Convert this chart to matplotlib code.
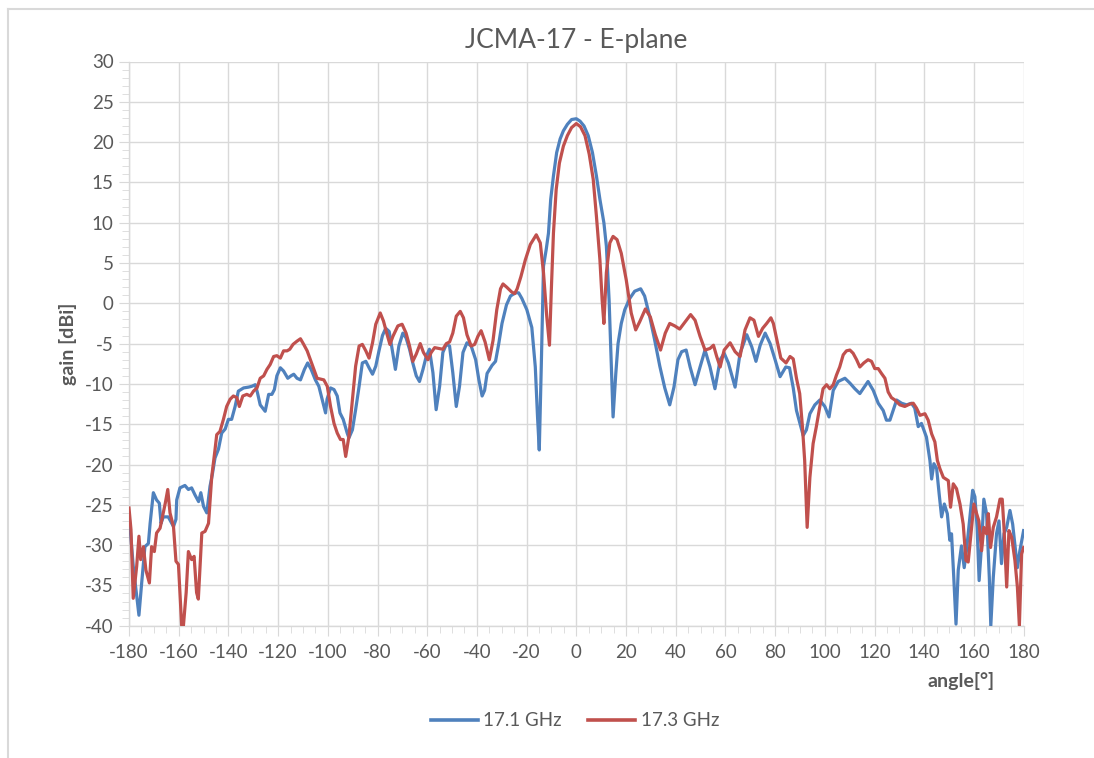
import matplotlib
matplotlib.use("Agg")
import matplotlib.pyplot as plt
from matplotlib.ticker import MultipleLocator
from matplotlib.lines import Line2D

# ---------------- data ----------------
blue_deg = [-180, -178.3, -176, -174.9, -173.6, -172.2, -171.5, -170.2, -168.9, -167.8, -167.1, -166.2,
            -164.2, -162.1, -161.1, -160.8, -159.5, -157.5, -156.1, -154.8, -153.4, -152, -151.1, -150,
            -148.7, -147.4, -146.5, -145.4, -144, -142.7, -141.3, -140, -138.7, -137.3, -136, -133.9,
            -131.9, -130.6, -129.2, -128.3, -127.2, -125.2, -123.8, -122.5, -121.5, -120.5, -119.1,
            -117.8, -116.1, -114.8, -113.7, -112.4, -111, -109.4, -108.1, -106.7, -105, -103.6, -102.3,
            -100.9, -100.3, -98.9, -97.5, -96.2, -95.1, -93.8, -92.2, -91.5, -90.1, -88.8, -87.4, -86.1,
            -84.7, -83.4, -82, -80.7, -79.4, -78, -76.7, -75.3, -74, -72.8, -71.4, -69.8, -68.5, -67.1,
            -65.8, -64.4, -63.1, -61.7, -60.4, -59.1, -57.7, -56.4, -55, -53.7, -52.3, -51, -49.7,
            -48.3, -47, -45.6, -44, -42.3, -40.5, -39.2, -37.9, -36.9, -35.9, -33.9, -32.5, -31.2,
            -29.9, -28.1, -26.5, -24.5, -23.2, -21.9, -19.9, -17.9, -16.5, -15.6, -14.9, -14.1, -13.2,
            -12.1, -11.2, -10.3, -9.2, -7.9, -6.5, -5.2, -3.6, -1.9, 0, 1.5, 3.1, 4.8, 6.5, 8.1, 9.5,
            11.1, 12.1, 13.2, 14.1, 14.8, 15.9, 16.8, 18.1, 19.5, 21.5, 23.5, 25.9, 27.5, 29.5, 31.5,
            33.6, 35.6, 37.6, 39.3, 40.9, 42.4, 44.2, 45.8, 47.8, 49.8, 51.8, 53.8, 55.8, 57.9, 59.5,
            61.2, 63.9, 65.9, 68.6, 70.6, 72.3, 74, 76, 78, 80, 82, 84.3, 85.8, 87.3, 88.6, 89.9, 91.3,
            92.6, 94, 96, 98, 100, 101.7, 103.4, 105.4, 108.1, 110.1, 112.1, 114.1, 115.4, 117.4,
            119.5, 121.5, 123.5, 124.8, 126.2, 127.5, 128.9, 130.9, 132.9, 134.9, 136.2, 137.6, 138.9,
            140.9, 142.3, 143, 143.9, 145, 146, 147, 148.1, 149.3, 150.3, 151, 151.9, 152.8, 153.7,
            155, 156.1, 157, 158.1, 159.5, 160.4, 161.3, 162.1, 163.1, 164, 165.1, 166.2, 166.8,
            167.8, 169.1, 170.1, 171.1, 172.1, 173.2, 174.5, 175.6, 176.5, 177.5, 178.5, 180]
blue_gain = [-26.2, -32.6, -38.7, -34.7, -30.2, -29.8, -27.3, -23.5, -24.4, -24.8, -27.3, -26.5,
             -26.5, -27.7, -26.8, -24.4, -22.9, -22.6, -23.1, -22.9, -23.8, -24.6, -23.5, -25.2,
             -26.0, -22.7, -21.3, -19.2, -18.1, -16.1, -15.6, -14.4, -14.4, -12.8, -10.9, -10.5,
             -10.4, -10.3, -10.1, -11.1, -12.6, -13.4, -11.3, -11.3, -10.7, -9.0, -8.0,
             -8.4, -9.3, -9.0, -8.8, -9.3, -9.5, -8.2, -7.4, -8.2, -9.5, -10.3, -11.9,
             -13.6, -11.9, -10.5, -10.7, -11.5, -13.6, -14.4, -16.1, -16.7, -15.7, -13.2, -10.3, -7.4,
             -7.2, -8.0, -8.8, -7.8, -5.9, -4.0, -3.1, -3.5, -5.9, -8.2, -5.3, -3.7, -4.3, -5.7,
             -7.4, -9.0, -9.7, -8.2, -6.6, -5.7, -8.6, -13.2, -10.3, -6.1, -5.1, -5.3, -8.6,
             -12.8, -10.3, -6.1, -4.9, -5.3, -7.0, -9.5, -11.5, -10.8, -8.7, -7.7, -7.2, -5.0,
             -2.5, -0.2, 0.9, 1.3, 1.3, 0.6, -0.8, -3.0, -7.9, -14.1, -18.2, -7.9, 4.6,
             6.7, 8.7, 12.9, 15.8, 18.7, 20.4, 21.4, 22.2, 22.8, 22.9, 22.6, 22.0, 20.8, 18.7, 15.8, 12.9,
             10.0, 7.1, 0.4, -7.9, -14.1, -8.7, -5.0, -2.5, -0.8, 0.6, 1.5, 1.8, 0.9, -1.6, -4.5,
             -7.8, -10.5, -12.6, -10.4, -7.0, -6.0, -5.8, -7.9, -10.1, -7.9, -5.8, -7.9, -10.6, -7.0, -6.2,
             -7.4, -10.4, -6.2, -3.9, -5.4, -7.2, -5.2, -3.7, -5.0, -7.0, -9.1, -7.9, -8.0, -10.5, -13.3,
             -14.8, -16.4, -15.7, -13.7, -12.6, -12.0, -12.8, -14.1, -10.8, -9.7, -9.3, -9.9, -10.6,
             -11.2, -10.6, -9.7, -10.8, -12.4, -13.3, -14.5, -14.5, -13.3, -12.0, -12.4, -12.6, -12.4,
             -13.0, -15.3, -14.9, -16.6, -19.5, -21.8, -19.9, -20.5, -23.6, -26.5, -24.9, -26.1, -29.4,
             -28.6, -34.0, -39.8, -33.1, -30.1, -32.8, -30.7, -27.4, -23.2, -24.0, -27.8, -34.4, -29.9,
             -24.3, -26.1, -34.0, -40.0, -34.0, -28.6, -27.0, -32.3, -28.6, -27.8, -25.7, -27.4, -29.9,
             -32.8, -30.7, -28.2]

red_deg = [-180, -179.2, -178.3, -176.9, -176, -175.3, -174.2, -173.2, -171.8, -170.9, -169.8, -168.9,
           -167.5, -166.2, -165.4, -164.4, -163.5, -162.1, -161.1, -160.1, -158.8, -158.1, -157, -156.1,
           -154.8, -153.8, -152.8, -152.1, -150.7, -149.4, -148, -146.7, -145.4, -144.7, -143.4, -142,
           -140.7, -139.3, -138, -136.6, -135.6, -134.2, -132.6, -131.2, -129.9, -128.5, -127.2, -125.8,
           -124.5, -123.2, -121.8, -120.5, -119.1, -117.8, -116.4, -115.3, -114, -112.4, -111, -109.7,
           -108.3, -107, -105.6, -104.3, -102.9, -101.6, -100.2, -98.9, -97.5, -96.2, -94.9, -93.8,
           -92.8, -91.5, -90.1, -88.8, -87.4, -86.1, -84.7, -83.4, -82, -80.7, -78.9, -77.6, -76.3,
           -75, -73.8, -71.8, -70.1, -68.5, -67.1, -65.8, -64.4, -62.8, -61.5, -59.7, -58.4, -57,
           -55.3, -53.7, -52.3, -51, -49.7, -48.3, -46.7, -45.4, -44, -42.3, -40.9, -39.6, -38.3,
           -36.7, -35, -33.5, -32, -30.5, -29.5, -28, -26, -24.8, -23.8, -22.3, -20.5, -18.5, -16.1,
           -14.5, -13.2, -11.9, -10.8, -10.0, -9.2, -8.1, -6.8, -5.2, -3.6, -1.9, 0, 1.7, 3.5, 5.2,
           6.8, 8.1, 9.5, 10.4, 11.1, 12.1, 13.5, 14.8, 16.4, 18.1, 20.1, 22.1, 23.9, 25.5, 27.8,
           29.8, 31.8, 33.9, 35.8, 37.6, 39.6, 41.6, 43.8, 46, 47.8, 49.8, 51.8, 53.8, 55.2, 56.5,
           57.9, 59.5, 61.9, 63.9, 65.9, 67.9, 69.9, 71.5, 73.3, 75, 76.6, 78.3, 79.3, 80.7, 82.3,
           84.4, 86, 87.3, 88.6, 89.9, 91, 91.9, 92.9, 94, 95.3, 96.6, 98, 99.3, 100.7, 102, 103.4,
           104.7, 106, 107.4, 108.7, 110.1, 111.4, 112.8, 114.1, 115.7, 117.4, 118.8, 120.1, 121.5,
           122.8, 124.2, 125.5, 126.8, 128.2, 130.2, 132.2, 134.2, 135.6, 136.9, 138.3, 140.3, 141.6,
           143, 144.3, 145.3, 146.3, 147.7, 149.7, 150.6, 151.7, 153, 154.4, 155.7, 156.8, 157.7,
           159.1, 160, 161.1, 162, 163.1, 164, 165.1, 165.8, 166.7, 167.8, 169.1, 170.5, 171.4,
           172.1, 173.2, 174.1, 175.2, 176.5, 177.5, 178.3, 179.2, 180]
red_gain = [-25.4, -28.1, -36.6, -32.6, -28.9, -31.8, -30.2, -33.1, -34.7, -30.2, -30.8, -28.5,
            -27.9, -26.0, -24.8, -23.1, -26.0, -27.7, -32.0, -32.4, -40.0, -40.0, -35.9, -30.8,
            -31.8, -31.4, -35.9, -36.7, -28.5, -28.3, -27.3, -21.5, -18.2, -16.3, -15.9, -14.4,
            -12.8, -11.9, -11.5, -11.7, -12.8, -11.5, -11.3, -11.5, -10.9, -10.5, -9.3, -9.0,
            -8.2, -7.6, -6.6, -6.5, -6.8, -5.9, -5.9, -5.7, -5.1, -4.7, -4.4, -5.1,
            -5.9, -7.0, -8.2, -9.3, -9.4, -9.5, -10.3, -12.8, -14.9, -16.1, -16.9, -16.9,
            -19.0, -16.5, -12.0, -7.8, -5.3, -5.1, -5.9, -6.8, -4.9, -2.6, -1.2, -2.2, -3.7,
            -5.1, -4.1, -2.8, -2.6, -3.7, -5.3, -7.2, -6.3, -5.0, -6.1, -7.0, -6.1, -5.5,
            -5.6, -5.7, -5.0, -4.8, -3.7, -1.6, -1.0, -1.8, -3.9, -5.3, -5.1, -4.1, -3.4,
            -4.8, -7.0, -4.6, -0.8, 1.8, 2.4, 2.0, 1.4, 1.2, 1.8, 3.3, 5.4, 7.3, 8.5,
            7.5, 3.8, -1.6, -5.2, 2.1, 8.7, 14.1, 17.4, 19.5, 20.8, 21.8, 22.3, 21.9, 20.8, 18.5,
            15.4, 10.8, 5.4, 0.4, -2.5, 3.8, 7.5, 8.3, 7.9, 6.2, 2.9, -1.2, -3.3, -2.3, -0.7,
            -1.7, -3.9, -5.8, -3.7, -2.5, -2.8, -3.2, -2.3, -1.4, -2.1, -4.1, -5.8, -5.6, -5.2, -6.6,
            -7.9, -5.8, -4.9, -6.0, -6.6, -3.3, -1.8, -2.1, -4.1, -3.1, -2.5, -1.8, -2.5, -4.5, -6.8,
            -7.4, -6.6, -6.9, -9.3, -11.2, -15.3, -19.5, -27.8, -21.6, -17.4, -15.3, -12.8, -10.6, -10.1, -10.6, -10.1,
            -8.9, -7.9, -6.4, -5.9, -5.8, -6.2, -7.0, -7.9, -7.4, -7.0, -7.2, -8.1, -8.1,
            -8.7, -9.3, -11.0, -11.7, -12.0, -12.6, -12.8, -12.5, -12.4, -13.0, -13.9, -13.7, -14.5,
            -16.2, -17.2, -19.5, -20.5, -21.6, -22.0, -25.3, -22.4, -23.0, -24.9, -27.4, -31.9, -32.1,
            -27.8, -24.9, -26.1, -27.0, -30.7, -27.8, -28.6, -26.1, -30.3, -27.8, -26.5, -24.3, -24.3,
            -27.8, -35.2, -28.2, -29.0, -31.9, -35.2, -40.0, -31.1, -30.3]

series_labels = ["17.1 GHz", "17.3 GHz"]
x_ticks = list(range(-180, 181, 20))
y_ticks = list(range(-40, 31, 5))

# ---------------- styling ----------------
BLUE = "#4F81BD"
RED = "#C0504D"
GRID = "#D9D9D9"
TEXT = "#595959"
FONT = ["Lato", "DejaVu Sans"]

plt.rcParams['font.family'] = FONT
plt.rcParams['axes.unicode_minus'] = False

fig = plt.figure(figsize=(10.94, 7.58), dpi=100)
ax = fig.add_axes([129/1094, 1-625.7/758, (1023.6-129)/1094, (625.7-61.5)/758])

ax.plot(blue_deg, blue_gain, color=BLUE, lw=2.3, solid_joinstyle='round', zorder=3)
ax.plot(red_deg, red_gain, color=RED, lw=2.3, solid_joinstyle='round', zorder=4)

ax.set_xlim(-180, 180)
ax.set_ylim(-40, 30)
ax.set_xticks(x_ticks)
ax.set_yticks(y_ticks)
ax.xaxis.set_minor_locator(MultipleLocator(5))
ax.yaxis.set_minor_locator(MultipleLocator(1))
ax.grid(True, which='major', color=GRID, lw=1.0, zorder=0)
ax.set_axisbelow(True)

for side in ['top', 'right']:
    ax.spines[side].set_visible(False)
for side in ['left', 'bottom']:
    ax.spines[side].set_color(GRID)
    ax.spines[side].set_linewidth(1.0)

ax.tick_params(which='major', direction='out', length=7, color=GRID, labelcolor=TEXT, labelsize=13.5)
ax.tick_params(which='minor', direction='out', length=5, color=GRID)
ax.tick_params(axis='x', pad=6)
ax.tick_params(axis='y', pad=4)

ax.set_title("JCMA-17 - E-plane", fontsize=19, color=TEXT, pad=10)
ax.set_ylabel("gain [dBi]", fontsize=14, fontweight='bold', color=TEXT, labelpad=6)
fig.text(995/1094, 1-681/758, "angle[°]", ha='right', va='center', fontsize=14,
         fontweight='bold', color=TEXT)

handles = [Line2D([0], [0], color=BLUE, lw=2.6), Line2D([0], [0], color=RED, lw=2.6)]
fig.legend(handles, series_labels, loc='center', bbox_to_anchor=(575/1094, 1-721/758), ncol=2,
           frameon=False, fontsize=13.5, handlelength=2.5, handletextpad=0.3, columnspacing=1.4,
           labelcolor=TEXT)

# outer chart border (left and top edges visible)
fig.add_artist(Line2D([7.5/1094, 7.5/1094], [0, 1-8.5/758], transform=fig.transFigure,
                      color=GRID, lw=1.5))
fig.add_artist(Line2D([7.5/1094, 1], [1-8.5/758, 1-8.5/758], transform=fig.transFigure,
                      color=GRID, lw=1.5))

fig.savefig("out.png", dpi=100, facecolor='white')
